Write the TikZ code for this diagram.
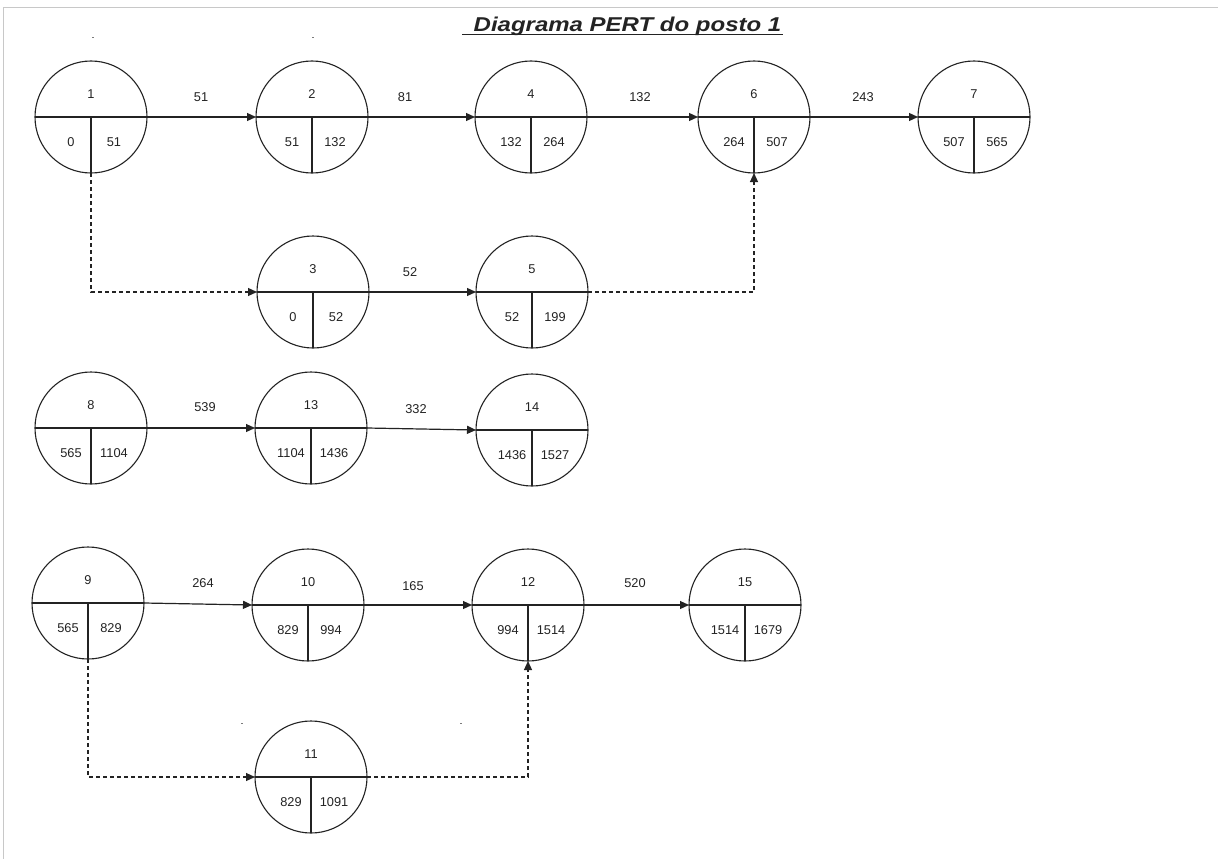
\documentclass[tikz,border=0pt]{standalone}
\usepackage{fontspec}
\setmainfont{Liberation Sans}
\usetikzlibrary{arrows.meta,calc}
\definecolor{ink}{RGB}{35,35,35}
\definecolor{frame}{RGB}{200,200,200}
\tikzset{
  ev/.style={circle,draw=ink,line width=1.1pt,minimum size=112pt,inner sep=0pt,outer sep=0pt},
  div/.style={draw=ink,line width=1.2pt},
  num/.style={font=\fontsize{12.8}{15}\selectfont,text=ink,inner sep=0pt},
  act/.style={draw=ink,line width=1.2pt,-{Triangle[length=9pt,width=8pt]}},
  dum/.style={act,dash pattern=on 4pt off 3pt},
}
\newcommand\pnode[6]{%
  \node[ev] (#1) at (#2,#3) {};
  \draw[div] (#1.west) -- (#1.east);
  \draw[div] (#1.center) -- (#1.south);
  \node[num] at ($(#1.center)+(0,-23)$) {#4};
  \node[num] at ($(#1.center)+(-20,25)$) {#5};
  \node[num] at ($(#1.center)+(23,25)$) {#6};
}
\begin{document}
\begin{tikzpicture}[x=1pt,y=-1pt]
\useasboundingbox (0,0) rectangle (1218,859);
\fill[white] (0,0) rectangle (1218,859);
\draw[frame,line width=1pt] (3.5,859) -- (3.5,7.5) -- (1218,7.5);
% title
\node[anchor=base,inner sep=0pt,text=ink] (ttl) at (627.5,32)
  {\scalebox{1.2}[1]{\fontsize{20}{24}\selectfont\bfseries\itshape Diagrama PERT do posto 1}};
\draw[ink,line width=1.8pt] (462,34.5) -- (783,34.5);
% stray marks
\draw[ink!60,line width=0.8pt] (92,37) -- (94,37) (312,37) -- (314,37) (241,723) -- (243,723) (460,723) -- (462,723);
% nodes
\pnode{n1}{91}{117}{1}{0}{51}
\pnode{n2}{312}{117}{2}{51}{132}
\pnode{n4}{531}{117}{4}{132}{264}
\pnode{n6}{754}{117}{6}{264}{507}
\pnode{n7}{974}{117}{7}{507}{565}
\pnode{n3}{313}{292}{3}{0}{52}
\pnode{n5}{532}{292}{5}{52}{199}
\pnode{n8}{91}{428}{8}{565}{1104}
\pnode{n13}{311}{428}{13}{1104}{1436}
\pnode{n14}{532}{430}{14}{1436}{1527}
\pnode{n9}{88}{603}{9}{565}{829}
\pnode{n10}{308}{605}{10}{829}{994}
\pnode{n12}{528}{605}{12}{994}{1514}
\pnode{n15}{745}{605}{15}{1514}{1679}
\pnode{n11}{311}{777}{11}{829}{1091}
% activities
\draw[act] (n1.east) -- (n2.west);
\draw[act] (n2.east) -- (n4.west);
\draw[act] (n4.east) -- (n6.west);
\draw[act] (n6.east) -- (n7.west);
\draw[act] (n3.east) -- (n5.west);
\draw[act] (n8.east) -- (n13.west);
\draw[act] (n13.east) -- (n14.west);
\draw[act] (n9.east) -- (n10.west);
\draw[act] (n10.east) -- (n12.west);
\draw[act] (n12.east) -- (n15.west);
% dummies
\draw[dum] (n1.south) |- (n3.west);
\draw[dum] (n5.east) -| (n6.south);
\draw[dum] (n9.south) |- (n11.west);
\draw[dum] (n11.east) -| (n12.south);
% durations
\node[num] at (201,97) {51};
\node[num] at (405,97) {81};
\node[num] at (640,97) {132};
\node[num] at (863,97) {243};
\node[num] at (410,272) {52};
\node[num] at (205,407) {539};
\node[num] at (416,409) {332};
\node[num] at (203,583) {264};
\node[num] at (413,586) {165};
\node[num] at (635,583) {520};
\end{tikzpicture}
\end{document}
